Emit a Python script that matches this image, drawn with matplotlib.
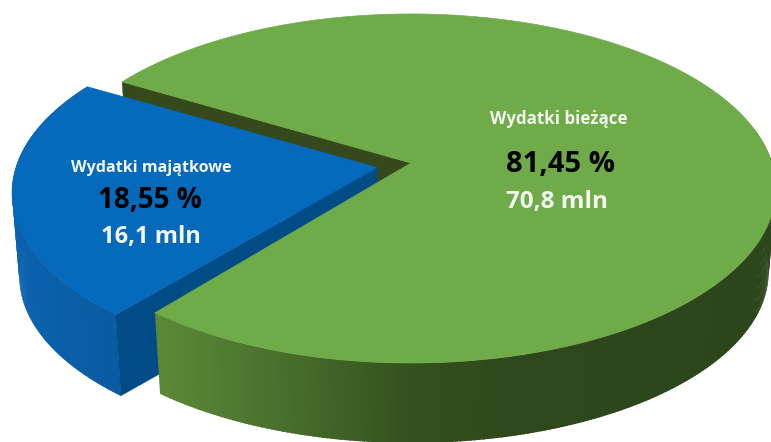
#!/usr/bin/env python3
# -*- coding: utf-8 -*-
import numpy as np
import matplotlib
matplotlib.use("Agg")
import matplotlib.pyplot as plt
from matplotlib.colors import LinearSegmentedColormap

categories = ["Wydatki bieżące", "Wydatki majątkowe"]
shares = [81.45, 18.55]
amounts = [70.8, 16.1]

# the source 3D pie draws the small slice wider than its share
BLUE_STRETCH = 1.205
GAP_STRETCH = 1.224
BLUE_START = 149.5
GREEN_GAP_START = 149.3

W, H = 771, 442
A, B, K = 361.0, 170.8, 0.146
DEPTH = 84.0
SHRINK = 0.98


def project(t, r, x0, y0, bottom=False):
    # unit circle -> picture through a simple perspective
    u = r * np.cos(np.radians(t))
    v = -r * np.sin(np.radians(t))
    w = 1 - K * v
    s = SHRINK if bottom else 1.0
    x = x0 + s * A * u / w
    y = y0 + s * B * v / w + (DEPTH if bottom else 0.0)
    return x, y


def top_face(ax, t1, t2, x0, y0, color, zorder):
    ts = np.linspace(t1, t2, 300)
    xs, ys = project(ts, 1.0, x0, y0)
    ax.fill(np.r_[x0, xs], np.r_[y0, ys], color=color, lw=0.5, zorder=zorder)


def cut_face(ax, t, x0, y0, color, zorder):
    x1, y1 = project(t, 1.0, x0, y0)
    x2, y2 = project(t, 1.0, x0, y0, bottom=True)
    xa, ya = project(t, 0.0, x0, y0, bottom=True)
    ax.fill([x0, x1, x2, xa], [y0, y1, y2, ya], color=color, lw=0.3, zorder=zorder)


def outer_side(ax, t1, t2, x0, y0, cmap, xmin, xmax, zorder):
    ts = np.linspace(t1, t2, 220)
    for a, b in zip(ts[:-1], ts[1:]):
        xa, ya = project(a, 1.0, x0, y0)
        xb, yb = project(min(b + 0.4, t2), 1.0, x0, y0)
        xc, yc = project(min(b + 0.4, t2), 1.0, x0, y0, bottom=True)
        xd, yd = project(a, 1.0, x0, y0, bottom=True)
        col = cmap((xa - xmin) / (xmax - xmin))
        ax.fill([xa, xb, xc, xd], [ya, yb, yc, yd], color=col, lw=0, zorder=zorder)


green_side = LinearSegmentedColormap.from_list(
    "g", [(0.0, "#5a8936"), (0.1, "#527c33"), (0.25, "#446828"), (0.42, "#33501f"),
          (0.6, "#2e471b"), (1.0, "#2d451b")])
blue_side = LinearSegmentedColormap.from_list(
    "b", [(0.0, "#0b62ae"), (0.6, "#0a5ea6"), (1.0, "#0a5a9e")])

fig = plt.figure(figsize=(W / 100, H / 100), dpi=100)
ax = fig.add_axes([0, 0, 1, 1])
ax.set_xlim(0, W)
ax.set_ylim(H, 0)
ax.axis("off")

blue_end = BLUE_START + 360 * shares[1] / sum(shares) * BLUE_STRETCH
green_start = GREEN_GAP_START + 360 * shares[1] / sum(shares) * GAP_STRETCH

gx, gy = 411.0, 163.0
bx, by = 377.0, 167.5

cut_face(ax, GREEN_GAP_START, gx, gy, "#35491c", 1)
outer_side(ax, BLUE_START, blue_end, bx, by, blue_side, 10, 125, 2)
cut_face(ax, blue_end, bx, by, "#014c86", 3)
top_face(ax, BLUE_START, blue_end, bx, by, "#0569bc", 4)
outer_side(ax, green_start, 372, gx, gy, green_side, 155, 771, 5)
top_face(ax, green_start, GREEN_GAP_START + 360, gx, gy, "#6fab48", 6)

FONT = "Open Sans"
WHITE = "#f4f6f2"


def pct(v):
    return f"{v:.2f} %".replace(".", ",")


def mln(v):
    return f"{v:.1f} mln".replace(".", ",")


ax.text(559, 119, categories[0], color=WHITE, fontsize=12.2, fontweight="bold",
        family=FONT, ha="center", va="center", zorder=10)
ax.text(561, 165, pct(shares[0]), color="black", fontsize=21, fontweight="bold",
        family=FONT, ha="center", va="center", zorder=10)
ax.text(557, 202, mln(amounts[0]), color=WHITE, fontsize=17.5, fontweight="bold",
        family=FONT, ha="center", va="center", zorder=10)
ax.text(151, 168, categories[1], color=WHITE, fontsize=11.6, fontweight="bold",
        family=FONT, ha="center", va="center", zorder=10)
ax.text(150, 201, pct(shares[1]), color="black", fontsize=20, fontweight="bold",
        family=FONT, ha="center", va="center", zorder=10)
ax.text(151, 237, mln(amounts[1]), color=WHITE, fontsize=17, fontweight="bold",
        family=FONT, ha="center", va="center", zorder=10)

fig.savefig("out.png", dpi=100)
